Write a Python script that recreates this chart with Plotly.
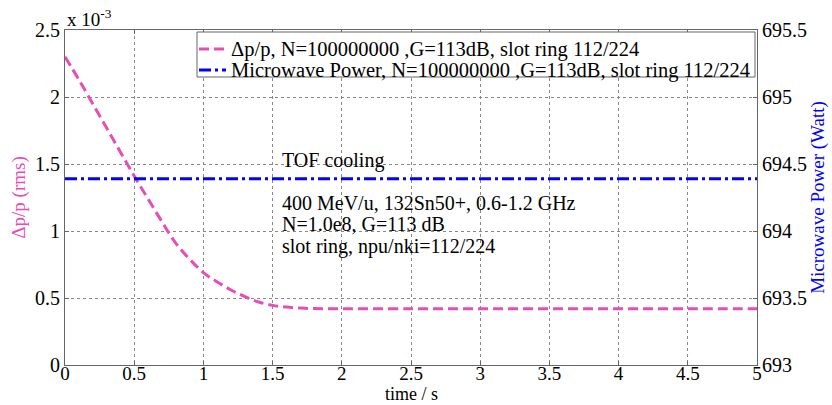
import plotly.graph_objects as go

# data
t = [0, 0.1, 0.2, 0.3, 0.4, 0.5, 0.6, 0.7, 0.8, 0.9, 1.0, 1.1, 1.2, 1.3, 1.4, 1.5,
     1.6, 1.7, 1.8, 1.9, 2.0, 2.5, 3.0, 3.5, 4.0, 4.5, 5.0]
dp_p = [2.30, 2.13, 1.95, 1.77, 1.59, 1.41, 1.24, 1.07, 0.91, 0.79, 0.69, 0.62, 0.56,
        0.51, 0.47, 0.445, 0.432, 0.425, 0.421, 0.42, 0.42, 0.42, 0.42, 0.42, 0.42, 0.42, 0.42]
t_power = [0, 5]
power = [694.39, 694.39]

name1 = "Δp/p, N=100000000 ,G=113dB, slot ring 112/224"
name2 = "Microwave Power, N=100000000 ,G=113dB, slot ring 112/224"
notes = ["TOF cooling", "400 MeV/u, 132Sn50+, 0.6-1.2 GHz", "N=1.0e8, G=113 dB",
         "slot ring, npu/nki=112/224"]

MAG = "#E64DB5"
BLUE = "#0000FF"
FONT = "Liberation Serif"
DASH1 = "10px,5px"
DASH2 = "12px,4px,3px,4px"

# plot area in pixels (for placing decorations)
L, R, T, B = 65, 757, 30, 365
W, H = R - L, B - T


def px(x):
    return (x - L) / W


def py(y):
    return (B - y) / H


fig = go.Figure()
fig.add_trace(go.Scatter(x=t, y=dp_p, name=name1, mode="lines",
                         line=dict(color=MAG, width=3, dash=DASH1, shape="spline")))
fig.add_trace(go.Scatter(x=t_power, y=power, name=name2, mode="lines", yaxis="y2",
                         line=dict(color=BLUE, width=3, dash=DASH2)))

axcommon = dict(showline=True, linecolor="#666666", linewidth=1, ticks="inside",
                ticklen=4, tickcolor="#666666", zeroline=False, automargin=False,
                tickfont=dict(family=FONT, size=20, color="black"))

fig.update_layout(
    width=832, height=405,
    margin=dict(l=L, r=832 - R, t=T, b=405 - B),
    paper_bgcolor="white", plot_bgcolor="white",
    font=dict(family=FONT, size=18, color="black"),
    showlegend=False,
    xaxis=dict(range=[0, 5], tickvals=[0, 0.5, 1, 1.5, 2, 2.5, 3, 3.5, 4, 4.5, 5],
               ticktext=["0", "0.5", "1", "1.5", "2", "2.5", "3", "3.5", "4", "4.5", "5"],
               showgrid=True, gridcolor="#888888", griddash="dot", gridwidth=1,
               mirror="ticks", ticklabelstandoff=-9,
               **axcommon),
    yaxis=dict(range=[0, 2.5], tickvals=[0, 0.5, 1, 1.5, 2, 2.5],
               ticktext=["0", "0.5", "1", "1.5", "2", "2.5"],
               showgrid=True, gridcolor="#888888", griddash="dot", gridwidth=1,
               title=dict(text="Δp/p (rms)", font=dict(family=FONT, size=19, color=MAG),
                          standoff=4),
               **axcommon),
    yaxis2=dict(range=[693, 695.5], tickvals=[693, 693.5, 694, 694.5, 695, 695.5],
                ticktext=["693", "693.5", "694", "694.5", "695", "695.5"],
                overlaying="y", side="right", showgrid=False,
                title=dict(text="Microwave Power (Watt)",
                           font=dict(family=FONT, size=19, color=BLUE), standoff=4),
                **axcommon),
)
fig.update_xaxes(tickfont=dict(size=19))

# legend box drawn by hand
fig.add_shape(type="rect", xref="paper", yref="paper",
              x0=px(197), x1=px(755), y0=py(77), y1=py(32),
              line=dict(color="#666666", width=1), fillcolor="white", layer="above")
for (name, color, dash, yrow) in [(name1, MAG, DASH1, 49), (name2, BLUE, DASH2, 70)]:
    fig.add_shape(type="line", xref="paper", yref="paper",
                  x0=px(199), x1=px(226), y0=py(yrow), y1=py(yrow),
                  line=dict(color=color, width=3, dash=dash), layer="above")
    fig.add_annotation(xref="paper", yref="paper", x=px(229), y=py(yrow),
                       xanchor="left", yanchor="middle", text=name, showarrow=False,
                       font=dict(family=FONT, size=20.5))

# x-axis title
fig.add_annotation(xref="paper", yref="paper", x=0.5, y=py(393.5),
                   xanchor="center", yanchor="middle", text="time / s", showarrow=False,
                   font=dict(family=FONT, size=18))

fig.add_annotation(xref="paper", yref="paper", x=0, y=1.0, xanchor="left", yanchor="bottom",
                   text="x 10<sup>-3</sup>", showarrow=False,
                   font=dict(family=FONT, size=19), yshift=-2)

ys = [160, 203, 224, 246]
for txt, yp in zip(notes, ys):
    fig.add_annotation(xref="paper", yref="paper", x=px(280),
                       y=py(yp), xanchor="left", yanchor="middle",
                       text=txt, showarrow=False, font=dict(family=FONT, size=20))

fig.write_html("out.html")
